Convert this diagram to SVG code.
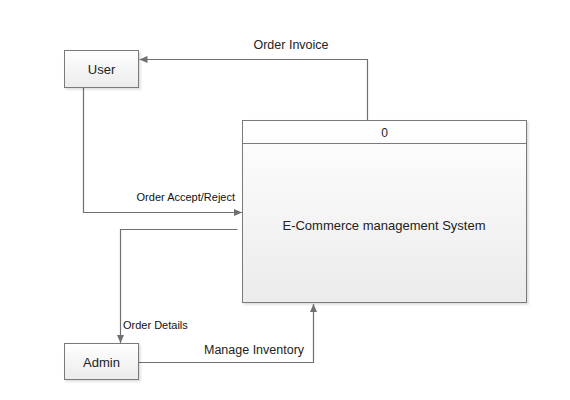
<svg xmlns="http://www.w3.org/2000/svg" width="570" height="400" viewBox="0 0 570 400">
<defs>
<linearGradient id="g" x1="0" y1="0" x2="0" y2="1"><stop offset="0" stop-color="#ffffff"/><stop offset="1" stop-color="#ebebeb"/></linearGradient>
<filter id="sh" x="-10%" y="-10%" width="130%" height="130%"><feDropShadow dx="1.5" dy="1.5" stdDeviation="1" flood-color="#000" flood-opacity="0.15"/></filter>
<marker id="arr" viewBox="0 0 8 8" refX="8" refY="4" markerWidth="8" markerHeight="8" markerUnits="userSpaceOnUse" orient="auto"><path d="M0,0.5 L8,4 L0,7.5 z" fill="#707070"/></marker>
<style>
.box{fill:url(#g);stroke:#7a7a7a;stroke-width:1;filter:url(#sh)}
.t{font-family:"Liberation Sans",Arial,sans-serif;fill:#222;text-anchor:middle}
.l{font-family:"Liberation Sans",Arial,sans-serif;fill:#111;font-size:11px}
.L{font-family:"Liberation Sans",Arial,sans-serif;fill:#222;font-size:12.5px}
.c{fill:none;stroke:#707070;stroke-width:1.2}
</style>
</defs>
<rect width="570" height="400" fill="#fff"/>
<g id="connectors">
<path class="c" d="M367.5,120.5 V59.5 H139.5" marker-end="url(#arr)"/>
<text class="L" x="291" y="49" text-anchor="middle">Order Invoice</text>
<path class="c" d="M83.5,88 V212.5 H242" marker-end="url(#arr)"/>
<text class="l" x="235" y="201" text-anchor="end">Order Accept/Reject</text>
<path class="c" d="M237.5,229.5 H120.5 V343" marker-end="url(#arr)"/>
<text class="l" x="123" y="329">Order Details</text>
<path class="c" d="M139,362.5 H313.5 V304" marker-end="url(#arr)"/>
<text class="L" x="204" y="354">Manage Inventory</text>
</g>
<g id="user">
<rect class="box" x="64.5" y="50.5" width="74" height="37"/>
<text class="t" x="101.5" y="74" font-size="13">User</text>
</g>
<g id="process">
<rect class="box" x="242.5" y="120.5" width="284" height="182"/>
<line x1="242.5" y1="143.5" x2="526.5" y2="143.5" stroke="#7a7a7a"/>
<text class="t" x="384.5" y="137" font-size="12">0</text>
<text class="t" x="384" y="230" font-size="13">E-Commerce management System</text>
</g>
<g id="admin">
<rect class="box" x="64.5" y="343.5" width="74" height="36"/>
<text class="t" x="101.5" y="367" font-size="13">Admin</text>
</g>
</svg>
